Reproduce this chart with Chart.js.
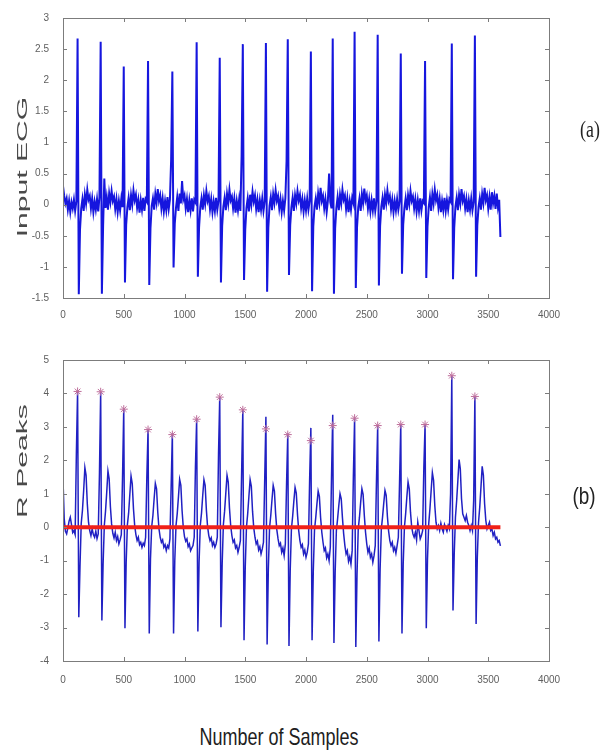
<!DOCTYPE html>
<html>
<head>
<meta charset="utf-8">
<script src="https://cdn.jsdelivr.net/npm/chart.js@4.4.1/dist/chart.umd.min.js"></script>
<style>
  body { margin: 0; background: #fff; }
  #page { position: relative; width: 611px; height: 755px; overflow: hidden; background: #fff; }
  canvas { position: absolute; left: 0; }
  .lbl { position: absolute; white-space: nowrap; line-height: 1; }
</style>
</head>
<body>
<div id="page">
  <canvas id="chartA" width="611" height="330" style="top:0"></canvas>
  <canvas id="chartB" width="611" height="380" style="top:330px"></canvas>
  <div class="lbl" style="left:22px; top:167px; transform: translate(-50%,-50%) rotate(-90deg) scaleX(2.15); font: 14px 'Liberation Sans', Arial, sans-serif; color:#4a4a4a;">Input ECG</div>
  <div class="lbl" style="left:22px; top:461px; transform: translate(-50%,-50%) rotate(-90deg) scaleX(2.15); font: 14px 'Liberation Sans', Arial, sans-serif; color:#4a4a4a;">R Peaks</div>
  <div class="lbl" style="left:590px; top:130px; transform: translate(-50%,-50%) scale(1.05,1.4); font: 17px 'Liberation Serif', serif; color:#222;">(a)</div>
  <div class="lbl" style="left:584px; top:497px; transform: translate(-50%,-50%) scale(1.05,1.3); font: 18px 'Liberation Sans Narrow', sans-serif; color:#222;">(b)</div>
  <div class="lbl" style="left:279px; top:738px; transform: translate(-50%,-50%) scaleY(1.3); font: 18px 'Liberation Sans Narrow', sans-serif; color:#1e1e1e;">Number of Samples</div>
</div>
<script>
// one value every 10 samples
const sampleStep = 10;

const xTicks = [0, 500, 1000, 1500, 2000, 2500, 3000, 3500, 4000];
const yTicksA = [-1.5, -1, -0.5, 0, 0.5, 1, 1.5, 2, 2.5, 3];
const yTicksB = [-4, -3, -2, -1, 0, 1, 2, 3, 4, 5];

// (a) input ECG
const inputEcg = [
  0.30, 0.14, 0.02, 0.10, -0.08, 0.06, -0.12, 0.04, -0.06, 0.08, -0.10, 0.05,
  2.67, -1.44, -0.40, -0.06, 0.09, -0.10, 0.16, 0.02, 0.24, 0.08, 0.14, -0.06, 0.10, -0.12, 0.05, -0.08, 0.09, -0.11, 0.12,
  2.62, -1.43, -0.35, 0.42, -0.05, 0.12, -0.08, 0.18, 0.04, 0.22, 0.06, 0.13, -0.07, 0.09, -0.12, 0.06, -0.09, 0.10, -0.04,
  2.22, -1.25, -0.32, -0.04, 0.11, -0.09, 0.15, 0.00, 0.23, 0.07, 0.16, -0.05, 0.08, -0.13, 0.07, -0.08, 0.11, -0.10, 0.09, 0.05,
  2.31, -1.29, -0.38, -0.02, 0.10, -0.08, 0.17, 0.03, 0.25, 0.06, 0.15, -0.06, 0.10, -0.11, 0.06, -0.09, 0.12, -0.07, 0.08, 0.72,
  2.14, -1.01, -0.30, -0.05, 0.12, -0.10, 0.18, 0.02, 0.38, 0.08, 0.15, -0.06, 0.09, -0.12, 0.07, -0.09, 0.10, -0.11, 0.08, 0.04,
  2.61, -1.16, -0.36, -0.04, 0.10, -0.08, 0.15, 0.01, 0.22, 0.06, 0.14, -0.07, 0.09, -0.12, 0.05, -0.10, 0.11, -0.08, 0.06,
  2.36, -1.25, -0.34, -0.03, 0.11, -0.09, 0.17, 0.02, 0.24, 0.07, 0.13, -0.06, 0.10, -0.13, 0.06, -0.09, 0.09, -0.10, 0.78,
  2.58, -1.21, -0.40, -0.05, 0.10, -0.11, 0.16, 0.00, 0.21, 0.05, 0.15, -0.07, 0.08, -0.12, 0.07, -0.08, 0.10, -0.10, 0.05,
  2.60, -1.40, -0.37, -0.02, 0.12, -0.09, 0.17, 0.03, 0.23, 0.06, 0.14, -0.06, 0.09, -0.12, 0.06, -0.09, 0.10, 0.70,
  2.66, -1.13, -0.33, -0.04, 0.11, -0.10, 0.15, 0.02, 0.22, 0.07, 0.16, -0.05, 0.09, -0.11, 0.07, -0.09, 0.10, -0.08, 0.06,
  2.46, -1.39, -0.35, -0.03, 0.10, -0.08, 0.18, 0.03, 0.27, 0.06, 0.14, -0.06, 0.09, -0.12, 0.06, 0.50, 0.04, -0.06,
  2.67, -1.43, -0.38, -0.05, 0.12, -0.09, 0.16, 0.02, 0.24, 0.08, 0.15, -0.07, 0.10, -0.12, 0.06, -0.08, 0.11, 0.03,
  2.78, -1.34, -0.36, -0.04, 0.10, -0.10, 0.17, 0.03, 0.26, 0.07, 0.15, -0.06, 0.09, -0.11, 0.07, -0.09, 0.10, -0.10, 0.05,
  2.73, -1.30, -0.34, -0.03, 0.11, -0.08, 0.16, 0.02, 0.23, 0.06, 0.14, -0.07, 0.08, -0.12, 0.06, -0.09, 0.09, -0.08, 0.05,
  2.43, -1.11, -0.32, -0.05, 0.10, -0.09, 0.15, 0.01, 0.22, 0.06, 0.13, -0.06, 0.09, -0.11, 0.07, -0.10, 0.10, -0.09, 0.06, 0.03,
  2.31, -1.18, -0.35, -0.04, 0.12, -0.10, 0.17, 0.02, 0.24, 0.07, 0.16, -0.05, 0.10, -0.12, 0.06, -0.09, 0.11, -0.10, 0.07, -0.08, 0.09, 0.05,
  2.59, -1.20, -0.37, -0.03, 0.11, -0.09, 0.16, 0.02, 0.25, 0.06, 0.14, -0.06, 0.09, -0.12, 0.07, -0.08, 0.10, -0.09, 0.04,
  2.72, -1.16, -0.33, -0.04, 0.10, -0.08, 0.17, 0.03, 0.27, 0.07, 0.15, -0.06, 0.12, -0.08, 0.20, 0.02, 0.14, -0.07, 0.18, -0.04, 0.08, -0.52
];

// (b) filtered signal used for R peak detection
const rPeakSignal = [
  1.43, 0.25, -0.12, -0.20, -0.02, 0.18, 0.30, 0.08, -0.16, -0.10, -0.22,
  2.20, 4.06, -2.69, -1.15, 0.12, 0.50, 1.10, 1.78, 1.55, 0.70, 0.15, -0.10, -0.25, -0.05, -0.22, -0.30, -0.12, -0.34, -0.20,
  1.60, 4.05, -2.79, -1.10, 0.05, 0.48, 1.05, 1.68, 1.45, 0.62, 0.10, -0.18, -0.32, -0.15, -0.40, -0.28, -0.50, -0.38, -0.22,
  1.50, 3.55, -3.02, -1.05, 0.08, 0.42, 0.98, 1.53, 1.30, 0.55, 0.05, -0.22, -0.40, -0.30, -0.52, -0.45, -0.60, -0.48, -0.55, -0.30,
  1.50, 2.92, -3.18, -0.95, 0.02, 0.35, 0.85, 1.31, 1.15, 0.45, -0.05, -0.30, -0.45, -0.38, -0.60, -0.52, -0.70, -0.55, -0.62, -0.35,
  1.20, 2.80, -3.18, -1.00, 0.05, 0.40, 0.90, 1.43, 1.25, 0.50, 0.00, -0.28, -0.42, -0.35, -0.58, -0.50, -0.70, -0.62, -0.55, -0.30,
  1.80, 3.23, -3.12, -1.05, 0.06, 0.42, 0.95, 1.42, 1.25, 0.52, 0.02, -0.25, -0.40, -0.32, -0.55, -0.45, -0.60, -0.50, -0.30,
  2.20, 3.89, -2.99, -1.10, 0.08, 0.48, 1.02, 1.55, 1.35, 0.58, 0.05, -0.25, -0.45, -0.38, -0.62, -0.55, -0.75, -0.60, -0.40,
  1.60, 3.51, -3.38, -1.20, 0.00, 0.40, 0.92, 1.42, 1.22, 0.48, -0.02, -0.30, -0.50, -0.42, -0.68, -0.58, -0.80, -0.65, -0.45,
  1.40, 3.30, -3.51, -1.25, -0.02, 0.35, 0.82, 1.25, 1.08, 0.40, -0.08, -0.35, -0.55, -0.48, -0.75, -0.62, -0.85, -0.50,
  1.30, 2.80, -3.55, -1.30, -0.05, 0.32, 0.78, 1.19, 1.02, 0.38, -0.10, -0.40, -0.60, -0.52, -0.80, -0.68, -0.90, -0.75, -0.50,
  1.45, 2.97, -3.38, -1.30, -0.08, 0.28, 0.70, 1.08, 0.92, 0.30, -0.15, -0.45, -0.70, -0.62, -0.92, -0.80, -1.00, -0.60,
  1.50, 3.36, -3.46, -1.35, -0.10, 0.25, 0.65, 1.00, 0.85, 0.28, -0.20, -0.55, -0.80, -0.70, -1.02, -0.88, -1.10, -0.70,
  1.55, 3.26, -3.58, -1.40, -0.05, 0.30, 0.75, 1.15, 0.98, 0.35, -0.15, -0.50, -0.75, -0.62, -0.90, -0.80, -1.05, -0.85, -0.55,
  1.40, 3.04, -3.42, -1.25, -0.05, 0.30, 0.72, 1.10, 0.95, 0.32, -0.12, -0.40, -0.55, -0.45, -0.70, -0.60, -0.78, -0.55, -0.30,
  1.35, 3.07, -3.18, -1.10, 0.00, 0.40, 0.90, 1.35, 1.15, 0.45, 0.00, -0.20, -0.30, -0.15, -0.38, 0.15, -0.10, -0.35, -0.25, -0.10,
  1.80, 3.07, -3.02, -0.95, 0.10, 0.55, 1.10, 1.63, 1.40, 0.65, 0.15, -0.05, 0.05, -0.10, 0.12, -0.05, -0.15, 0.08, -0.02, -0.12, 0.05, -0.05,
  1.00, 4.53, -2.49, -0.80, 0.30, 0.80, 1.40, 2.02, 1.75, 0.85, 0.40, 0.30, 0.20, 0.35, 0.15, 0.05, -0.10, 0.05, -0.10,
  0.80, 3.91, -2.89, -0.90, 0.15, 0.60, 1.20, 1.82, 1.55, 0.70, 0.20, -0.05, 0.05, 0.15, -0.10, -0.05, -0.25, -0.15, -0.35, -0.30, -0.45, -0.40, -0.56
];

// detected R peaks (star markers)
const peakX = [120, 310, 500, 700, 900, 1100, 1290, 1480, 1670, 1850, 2040, 2220, 2400, 2590, 2780, 2980, 3200, 3390];
const peakY = [4.06, 4.05, 3.53, 2.92, 2.77, 3.23, 3.89, 3.51, 2.94, 2.77, 2.59, 3.04, 3.26, 3.04, 3.07, 3.07, 4.53, 3.91];

// threshold line
const thresholdX = [0, 3600];
const thresholdY = [0, 0];

const tickFont = { family: "'Liberation Sans', Arial, sans-serif", size: 10 };
const tickColor = '#5e5e5e';

function toPoints(values) {
    return values.map((v, i) => ({ x: i * sampleStep, y: v }));
}

// MATLAB style box with inward ticks on all four sides
const boxTicks = {
    id: 'boxTicks',
    afterDatasetsDraw(chart) {
        const { ctx, chartArea: a, scales: { x, y } } = chart;
        ctx.save();
        ctx.strokeStyle = '#7c7c7c';
        ctx.lineWidth = 1;
        ctx.beginPath();
        x.ticks.forEach((t, i) => {
            const px = Math.round(x.getPixelForTick(i)) + 0.5;
            ctx.moveTo(px, a.bottom); ctx.lineTo(px, a.bottom - 4);
            ctx.moveTo(px, a.top); ctx.lineTo(px, a.top + 4);
        });
        y.ticks.forEach((t, i) => {
            const py = Math.round(y.getPixelForTick(i)) + 0.5;
            ctx.moveTo(a.left, py); ctx.lineTo(a.left + 4, py);
            ctx.moveTo(a.right, py); ctx.lineTo(a.right - 4, py);
        });
        ctx.stroke();
        ctx.strokeRect(Math.round(a.left) + 0.5, Math.round(a.top) + 0.5,
            Math.round(a.right - a.left), Math.round(a.bottom - a.top));
        ctx.restore();
    }
};

function makeScales(yMin, yMax, yTicks, xHeight, xPad) {
    return {
        x: {
            type: 'linear', min: 0, max: 4000,
            afterBuildTicks: s => { s.ticks = xTicks.map(v => ({ value: v })); },
            afterFit: s => { s.height = xHeight; },
            grid: { display: false },
            border: { display: false },
            ticks: { font: tickFont, color: tickColor, padding: xPad, maxRotation: 0, autoSkip: false,
                callback: v => String(v) }
        },
        y: {
            type: 'linear', min: yMin, max: yMax,
            afterBuildTicks: s => { s.ticks = yTicks.map(v => ({ value: v })); },
            afterFit: s => { s.width = 63; },
            grid: { display: false },
            border: { display: false },
            ticks: { font: tickFont, color: tickColor, padding: 6, autoSkip: false,
                callback: v => String(v) }
        }
    };
}

new Chart(document.getElementById('chartA'), {
    type: 'line',
    data: {
        datasets: [{
            data: toPoints(inputEcg),
            borderColor: 'rgb(22,22,222)',
            borderWidth: 2,
            pointRadius: 0,
            tension: 0
        }]
    },
    options: {
        responsive: false,
        animation: false,
        layout: { padding: { top: 18, right: 62, bottom: 0, left: 0 } },
        plugins: { legend: { display: false }, tooltip: { enabled: false } },
        scales: makeScales(-1.5, 3, yTicksA, 32, 3)
    },
    plugins: [boxTicks]
});

new Chart(document.getElementById('chartB'), {
    type: 'line',
    data: {
        datasets: [{
            data: peakX.map((x, i) => ({ x: x, y: peakY[i] })),
            showLine: false,
            pointStyle: 'star',
            pointRadius: 4,
            borderColor: 'rgb(190,110,155)',
            borderWidth: 1,
            order: 0
        }, {
            data: thresholdX.map((x, i) => ({ x: x, y: thresholdY[i] })),
            borderColor: 'rgb(240,32,24)',
            borderWidth: 4,
            pointRadius: 0,
            order: 1
        }, {
            data: toPoints(rPeakSignal),
            borderColor: 'rgb(32,32,195)',
            borderWidth: 1.5,
            pointRadius: 0,
            tension: 0,
            order: 2
        }]
    },
    options: {
        responsive: false,
        animation: false,
        layout: { padding: { top: 30, right: 62, bottom: 0, left: 0 } },
        plugins: { legend: { display: false }, tooltip: { enabled: false } },
        scales: makeScales(-4, 5, yTicksB, 49, 5)
    },
    plugins: [boxTicks]
});
</script>
</body>
</html>
